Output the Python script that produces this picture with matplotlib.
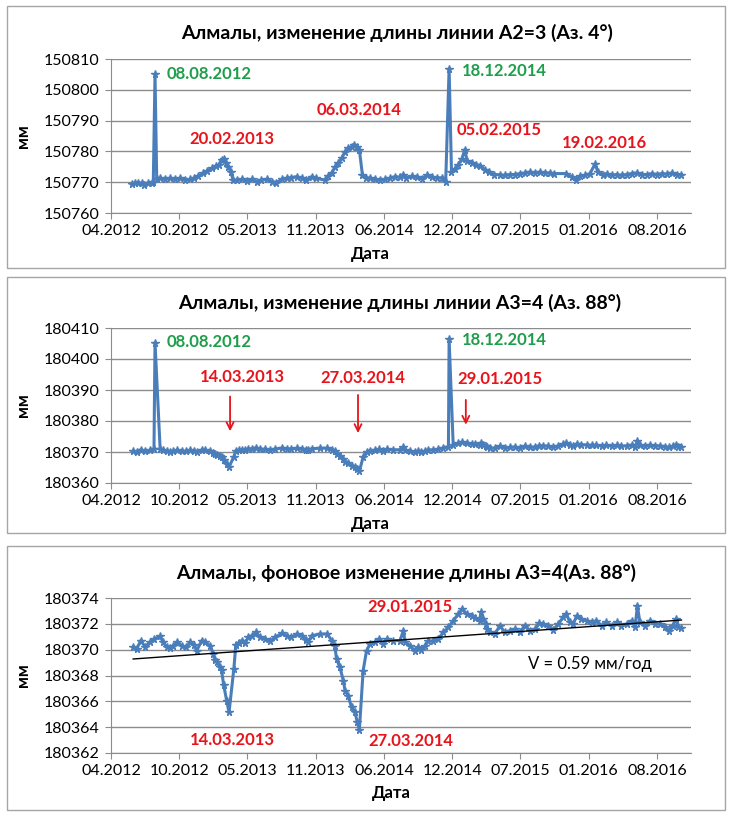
import matplotlib
matplotlib.use('Agg')
import matplotlib.pyplot as plt
import matplotlib.dates as mdates
from matplotlib.ticker import FuncFormatter
from matplotlib.patches import Rectangle
import numpy as np

plt.rcParams['font.family'] = ['Lato', 'DejaVu Sans']

BASE = np.datetime64('2012-04-01')

# ---------------- Panel 1: A2=3 (day offsets from 2012-04-01, mm) -------------
days_a23 = [61, 70, 80, 90, 97, 109, 119, 124, 129, 134, 144, 158, 173, 188, 202, 217, 232, 243,
            256, 271, 282, 295, 308, 317, 324, 331, 337, 344, 351, 358, 368, 383, 398, 412, 427,
            441, 456, 471, 485, 500, 515, 529, 544, 559, 573, 588, 601, 627, 637, 647, 656, 666,
            676, 686, 695, 705, 712, 720, 728, 737, 747, 759, 774, 788, 803, 818, 832, 847, 857,
            866, 881, 896, 911, 925, 940, 955, 969, 981, 991, 998, 1008, 1018, 1028, 1037, 1044,
            1057, 1070, 1081, 1096, 1109, 1123, 1139, 1155, 1169, 1184, 1199, 1213, 1228, 1243,
            1257, 1272, 1287, 1298, 1335, 1350, 1363, 1374, 1389, 1404, 1418, 1428, 1441, 1453,
            1467, 1482, 1497, 1511, 1526, 1541, 1555, 1570, 1585, 1600, 1614, 1629, 1643, 1658,
            1672]
vals_a23 = [150769.3, 150769.6, 150769.9, 150769.6, 150769.2, 150769.6, 150769.9, 150770.2,
            150805.0, 150770.9, 150771.3, 150771.0, 150771.3, 150770.9, 150771.3, 150770.7,
            150770.9, 150771.3, 150772.0, 150772.9, 150773.7, 150774.5, 150775.3, 150775.6,
            150777.2, 150777.4, 150776.3, 150775.0, 150773.4, 150770.7, 150770.7, 150770.9,
            150770.5, 150770.9, 150770.2, 150770.7, 150770.9, 150770.2, 150769.9, 150770.9,
            150771.3, 150771.5, 150771.8, 150771.3, 150770.7, 150771.8, 150771.3, 150770.7,
            150772.0, 150773.1, 150774.8, 150776.1, 150777.8, 150779.9, 150781.0, 150781.5,
            150782.1, 150781.3, 150780.5, 150772.3, 150771.5, 150771.3, 150770.9, 150770.7,
            150770.9, 150771.3, 150771.8, 150771.6, 150772.5, 150771.4, 150771.9, 150771.6,
            150771.1, 150772.2, 150771.6, 150771.4, 150771.4, 150770.1, 150806.9, 150773.3,
            150774.3, 150775.7, 150777.4, 150780.6, 150776.8, 150776.3, 150775.7, 150775.4,
            150774.1, 150773.3, 150772.5, 150772.4, 150772.2, 150772.5, 150772.5, 150772.8,
            150773.0, 150773.3, 150773.0, 150773.3, 150773.0, 150773.0, 150772.8, 150772.8,
            150771.7, 150770.7, 150772.0, 150772.2, 150772.8, 150775.8, 150773.3, 150772.5,
            150772.8, 150772.2, 150772.5, 150772.2, 150772.5, 150772.8, 150773.0, 150772.5,
            150772.5, 150772.8, 150772.5, 150772.8, 150772.6, 150773.0, 150772.5, 150772.5]

# ---------------- Panel 3: A3=4 background series --------------------------------
days_bg = [65, 75, 87, 100, 114, 126, 144, 153, 163, 173, 183, 194, 207, 220, 232, 243, 251,
           266, 275, 290, 300, 305, 312, 319, 324, 330, 339, 346, 360, 366, 375, 383, 393, 402,
           412, 425, 437, 451, 466, 481, 500, 515, 529, 544, 559, 573, 578, 588, 612, 634, 647,
           656, 661, 671, 681, 686, 695, 705, 715, 722, 728, 739, 749, 759, 774, 786, 796, 808,
           827, 847, 857, 862, 876, 891, 901, 910, 920, 930, 945, 959, 974, 989, 1003, 1018,
           1030, 1042, 1057, 1066, 1081, 1084, 1091, 1099, 1103, 1111, 1125, 1140, 1154, 1169,
           1184, 1198, 1213, 1228, 1243, 1255, 1267, 1282, 1296, 1311, 1325, 1335, 1345, 1355,
           1365, 1379, 1394, 1409, 1423, 1438, 1452, 1467, 1482, 1496, 1511, 1526, 1536, 1543,
           1550, 1565, 1579, 1594, 1609, 1623, 1636, 1646, 1656, 1663, 1672]
vals_bg = [180370.18, 180370.03, 180370.70, 180370.23, 180370.57, 180370.83, 180371.03,
           180370.57, 180370.23, 180370.13, 180370.31, 180370.57, 180370.31, 180370.18,
           180370.57, 180370.39, 180369.92, 180370.70, 180370.57, 180370.31, 180369.66,
           180369.20, 180369.02, 180368.63, 180368.43, 180367.30, 180366.06, 180365.15,
           180368.50, 180370.40, 180370.55, 180370.70, 180370.49, 180370.95, 180371.08,
           180371.34, 180370.95, 180370.83, 180370.64, 180370.95, 180371.26, 180371.08,
           180370.95, 180371.21, 180371.08, 180370.75, 180370.57, 180371.08, 180371.21,
           180371.21, 180370.70, 180370.31, 180369.28, 180368.63, 180367.60, 180366.83,
           180366.44, 180365.54, 180365.15, 180364.38, 180363.78, 180368.37, 180369.92,
           180370.44, 180370.57, 180370.83, 180370.44, 180370.83, 180370.70, 180370.70,
           180371.47, 180370.57, 180370.31, 180369.92, 180370.18, 180369.97, 180370.31,
           180370.70, 180370.64, 180370.83, 180371.34, 180371.73, 180372.24, 180372.76,
           180373.15, 180372.76, 180372.63, 180372.45, 180372.24, 180372.89, 180372.37,
           180371.99, 180371.60, 180371.34, 180371.21, 180371.86, 180371.34, 180371.47,
           180371.60, 180371.34, 180371.86, 180371.47, 180371.60, 180372.04, 180371.99,
           180371.86, 180371.52, 180371.99, 180372.50, 180372.76, 180372.12, 180371.99,
           180372.63, 180372.37, 180372.24, 180372.12, 180372.24, 180371.86, 180372.12,
           180371.86, 180372.12, 180371.86, 180371.99, 180372.24, 180371.73, 180373.41,
           180372.12, 180371.86, 180372.24, 180371.99, 180371.99, 180371.73, 180371.47,
           180371.86, 180372.37, 180371.73, 180371.68]

# ---------------- Panel 2: same line with the two outliers ---------------------
spike_days = [129, 991]
spike_vals = [180405.3, 180406.3]

# annotations
labels1 = ['08.08.2012', '20.02.2013', '06.03.2014', '18.12.2014', '05.02.2015', '19.02.2016']
colors1 = ['g', 'r', 'r', 'g', 'r', 'r']
pos1 = [(164, 150805.2), (229, 150784.0), (603, 150793.5), (1029, 150806.2), (1014, 150786.9),
        (1322, 150782.8)]
labels2 = ['08.08.2012', '14.03.2013', '27.03.2014', '18.12.2014', '29.01.2015']
colors2 = ['g', 'r', 'r', 'g', 'r']
pos2 = [(164, 180405.4), (260, 180394.2), (613, 180393.9), (1029, 180406.2), (1014, 180393.7)]
arrow_days = [349, 724, 1040]
arrow_top = [180388.8, 180389.3, 180387.7]
arrow_bot = [180375.8, 180375.2, 180377.9]
labels3 = ['29.01.2015', '14.03.2013', '27.03.2014']
pos3 = [(750, 180373.3), (231, 180363.0), (753, 180362.9)]
speed_text = 'V = 0.59 мм/год'
speed_pos = (1222, 180368.9)

LINE = '#4a7ebb'
GREEN = '#1e9e4a'
RED = '#e8141b'
CMAP = {'g': GREEN, 'r': RED}
GRID = '#8c8c8c'

W, H = 733, 815
fig = plt.figure(figsize=(W / 100, H / 100), dpi=100)


def d(days):
    return BASE + np.array(days, dtype='timedelta64[D]')


def make_axes(top, bottom):
    ax = fig.add_axes([111 / W, 1 - bottom / H, 580 / W, (bottom - top) / H])
    ax.set_xlim(d([0])[0], d([1700])[0])
    ax.set_xticks(d([200 * i for i in range(9)]))
    ax.xaxis.set_major_formatter(mdates.DateFormatter('%m.%Y'))
    ax.yaxis.set_major_formatter(FuncFormatter(lambda v, p: f'{v:.0f}'))
    ax.grid(axis='y', color=GRID, lw=1)
    ax.set_axisbelow(True)
    for s in ['top', 'right']:
        ax.spines[s].set_visible(False)
    for s in ['left', 'bottom']:
        ax.spines[s].set_color(GRID)
    ax.tick_params(color=GRID, labelcolor='black', labelsize=11.5, length=4, pad=4)
    return ax


def panel_box(top, bottom):
    fig.add_artist(Rectangle((7 / W, 1 - bottom / H), 718 / W, (bottom - top) / H,
                             transform=fig.transFigure, fill=False, ec='#a6a6a6', lw=1))


def texts(title, ty, tx, xlab_x, xlab_y, ymid):
    fig.text(tx / W, 1 - ty / H, title, ha='center', va='center', fontsize=14,
             fontweight='bold')
    fig.text(xlab_x / W, 1 - xlab_y / H, 'Дата', ha='center', va='center', fontsize=12,
             fontweight='bold')
    fig.text(23 / W, 1 - ymid / H, 'мм', ha='center', va='center', fontsize=12,
             fontweight='bold', rotation=90)


mk = dict(color=LINE, lw=2.2, marker='*', ms=5.5, mfc=LINE, mec=LINE)

# Panel 1
panel_box(6, 268)
ax1 = make_axes(59, 213)
ax1.set_ylim(150760, 150810)
ax1.set_yticks(range(150760, 150811, 10))
ax1.plot(d(days_a23), vals_a23, **mk)
for t, c, (x, y) in zip(labels1, colors1, pos1):
    ax1.text(d([x])[0], y, t, color=CMAP[c], fontsize=12, fontweight='bold', ha='left',
             va='center')
texts('Алмалы, изменение длины линии А2=3 (Аз. 4°)', 33, 397, 370, 254, 136)

# Panel 2
panel_box(277, 533)
ax2 = make_axes(328, 483)
ax2.set_ylim(180360, 180410)
ax2.set_yticks(range(180360, 180411, 10))
days2 = list(days_bg) + spike_days
vals2 = list(vals_bg) + spike_vals
order = np.argsort(days2, kind='stable')
ax2.plot(d(np.array(days2)[order]), np.array(vals2)[order], **mk)
for t, c, (x, y) in zip(labels2, colors2, pos2):
    ax2.text(d([x])[0], y, t, color=CMAP[c], fontsize=12, fontweight='bold', ha='left',
             va='center')
for x, y0, y1 in zip(arrow_days, arrow_top, arrow_bot):
    ax2.annotate('', xy=(d([x])[0], y1), xytext=(d([x])[0], y0),
                 arrowprops=dict(arrowstyle='->,head_length=0.5,head_width=0.25', color=RED,
                                 lw=1.3))
texts('Алмалы, изменение длины линии А3=4 (Аз. 88°)', 303, 400, 370, 524, 405)

# Panel 3
panel_box(546, 810)
ax3 = make_axes(598, 753)
ax3.set_ylim(180362, 180374)
ax3.set_yticks(range(180362, 180375, 2))
ax3.plot(d(days_bg), vals_bg, **mk)
coef = np.polyfit(np.array(days_bg, float), np.array(vals_bg), 1)
tx = np.array([days_bg[0], days_bg[-1]], float)
ax3.plot(d(tx.astype(int)), np.polyval(coef, tx), color='black', lw=1)
for t, (x, y) in zip(labels3, pos3):
    ax3.text(d([x])[0], y, t, color=RED, fontsize=12, fontweight='bold', ha='left', va='center')
ax3.text(d([speed_pos[0]])[0], speed_pos[1], speed_text, fontsize=12, ha='left', va='center')
texts('Алмалы, фоновое изменение длины А3=4(Аз. 88°)', 573, 406, 391, 793, 675)

fig.savefig('out.png', dpi=100)
